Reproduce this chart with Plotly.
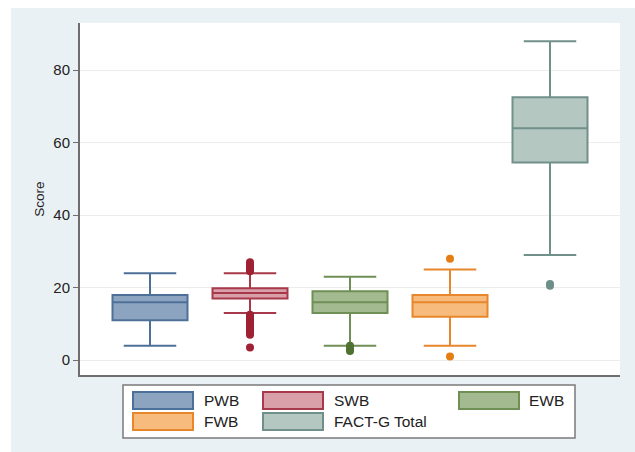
import plotly.graph_objects as go

# Summary statistics of each well-being subscale score
categories = ["PWB", "SWB", "EWB", "FWB", "FACT-G Total"]
lower_whisker = [4, 13, 4, 4, 29]
q1_values = [11, 17, 13, 12, 54.5]
median_values = [16, 18.5, 16, 16, 64]
q3_values = [18, 19.8, 19, 18, 72.5]
upper_whisker = [24, 24, 23, 25, 88]

# Points beyond the whiskers
outliers = [
    [],
    [24.5, 25, 25.5, 26, 26.5, 27, 7, 7.5, 8, 8.5, 9, 9.5, 10, 10.5, 11, 11.5, 12, 12.5, 3.5],
    [2.5, 3, 3.5, 4],
    [28, 1],
    [20.5, 21],
]

fill_colors = ["#8ca4c0", "#d9a0aa", "#a3b98f", "#f7bb7d", "#b4c7c0"]
line_colors = ["#4d7098", "#a8394a", "#6f8f55", "#e8862c", "#71908a"]
point_colors = ["#4d7098", "#9e2233", "#4f7232", "#e57e12", "#6e8f88"]

W, H = 635, 452
L, R, T, B = 80, 15, 23, 77
pw, ph = W - L - R, H - T - B


def px(x):
    return (x - L) / pw


def py(y):
    return (H - B - y) / ph


fig = go.Figure()
for i, cat in enumerate(categories):
    fig.add_trace(go.Box(
        x=[cat], q1=[q1_values[i]], median=[median_values[i]], q3=[q3_values[i]],
        lowerfence=[lower_whisker[i]], upperfence=[upper_whisker[i]],
        boxpoints=False, width=0.75, whiskerwidth=0.7,
        fillcolor=fill_colors[i], line=dict(color=line_colors[i], width=2),
        name=cat, showlegend=False, hoverinfo="skip",
    ))
    if outliers[i]:
        fig.add_trace(go.Scatter(
            x=[cat] * len(outliers[i]), y=outliers[i], mode="markers",
            marker=dict(color=point_colors[i], size=8),
            showlegend=False, hoverinfo="skip",
        ))

shapes = [
    # outer light panel edges: white strips on left and top
    dict(type="rect", xref="paper", yref="paper", x0=px(0), x1=px(11), y0=py(H), y1=py(0),
         fillcolor="white", line=dict(width=0), layer="below"),
    dict(type="rect", xref="paper", yref="paper", x0=px(0), x1=px(W), y0=py(8), y1=py(0),
         fillcolor="white", line=dict(width=0), layer="below"),
    # legend frame
    dict(type="rect", xref="paper", yref="paper", x0=px(123), x1=px(575), y0=py(438), y1=py(385),
         fillcolor="white", line=dict(color="#7a7a7a", width=1.5)),
]
annotations = []
key_x = [133, 263, 459, 133, 263]
text_x = [202, 332, 527, 202, 332]
key_y = [(392, 409), (392, 409), (392, 409), (413, 430), (413, 430)]
for i, cat in enumerate(categories):
    y0, y1 = key_y[i]
    shapes.append(dict(type="rect", xref="paper", yref="paper",
                       x0=px(key_x[i]), x1=px(key_x[i] + 60), y0=py(y1), y1=py(y0),
                       fillcolor=fill_colors[i], line=dict(color=line_colors[i], width=2)))
    annotations.append(dict(xref="paper", yref="paper", x=px(text_x[i]), y=py((y0 + y1) / 2),
                            text=cat, showarrow=False, xanchor="left", yanchor="middle",
                            font=dict(size=15.5, color="#222222")))

fig.update_layout(
    width=W, height=H,
    margin=dict(l=L, r=R, t=T, b=B),
    paper_bgcolor="#eaf1f4", plot_bgcolor="white",
    boxmode="overlay",
    font=dict(family="Liberation Sans, Arial, sans-serif", color="#222222"),
    shapes=shapes, annotations=annotations,
    xaxis=dict(type="category", range=[-0.7, 4.7], showticklabels=False, ticks="",
               showgrid=False, zeroline=False, showline=True, linecolor="#6e6e6e",
               linewidth=2, mirror=False, fixedrange=True),
    yaxis=dict(range=[-4.1, 93], tickvals=[0, 20, 40, 60, 80], ticks="outside",
               ticklen=5, tickcolor="#6e6e6e", tickfont=dict(size=15),
               showgrid=True, gridcolor="#ececec", gridwidth=1, zeroline=False,
               showline=True, linecolor="#6e6e6e", linewidth=2,
               title=dict(text="Score", font=dict(size=13.5), standoff=6)),
)

fig.write_html("out.html")
